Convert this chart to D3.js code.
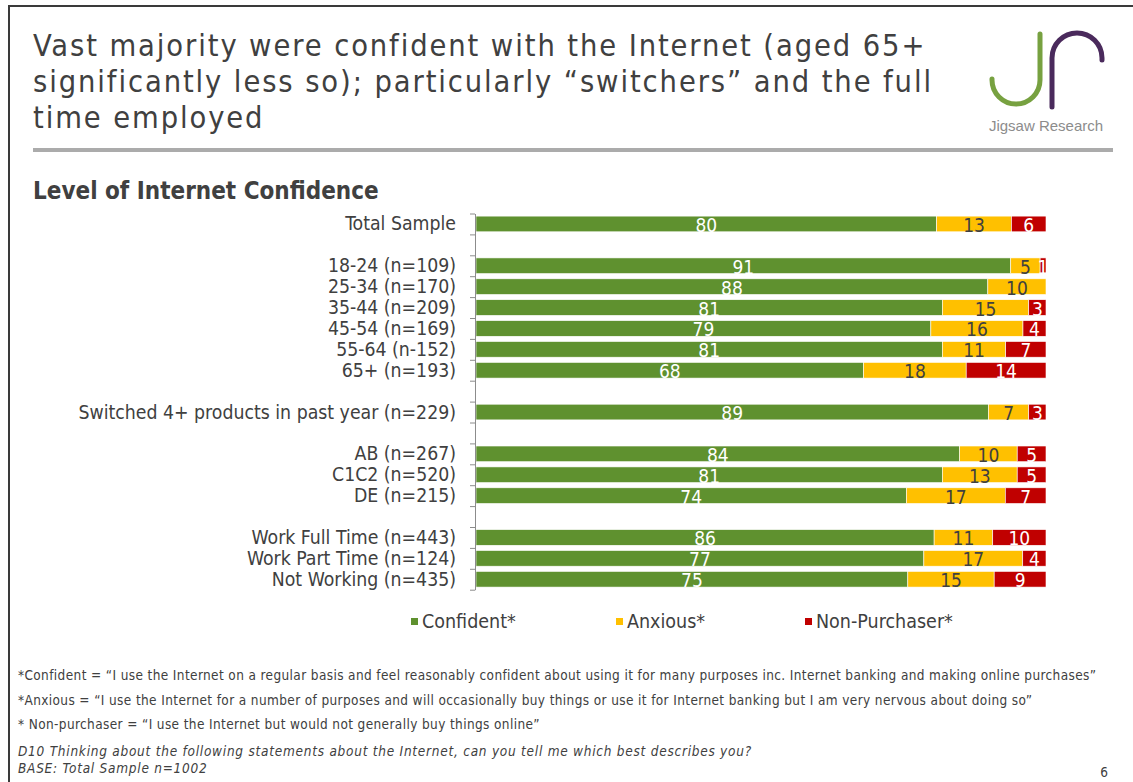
<!DOCTYPE html>
<html>
<head>
<meta charset="utf-8">
<script src="https://cdn.jsdelivr.net/npm/d3@7"></script>
<style>
  html, body { margin: 0; padding: 0; background: #fff; }
  svg { display: block; }
  text { font-family: "DejaVu Sans Condensed", "DejaVu Sans", sans-serif; font-stretch: condensed; }
</style>
</head>
<body>
<svg id="chart" width="1133" height="782"></svg>
<script>
// Categories in display order, with the size of each group (groups separated by a blank row)
const categories = [
  "Total Sample",
  "18-24 (n=109)", "25-34 (n=170)", "35-44 (n=209)", "45-54 (n=169)", "55-64 (n-152)", "65+ (n=193)",
  "Switched 4+ products in past year (n=229)",
  "AB (n=267)", "C1C2 (n=520)", "DE (n=215)",
  "Work Full Time (n=443)", "Work Part Time (n=124)", "Not Working (n=435)"
];
const groupSizes = [1, 6, 1, 3, 3];

// Percentages per category
const confident    = [80, 91, 88, 81, 79, 81, 68, 89, 84, 81, 74, 86, 77, 75];
const anxious      = [13,  5, 10, 15, 16, 11, 18,  7, 10, 13, 17, 11, 17, 15];
const nonPurchaser = [ 6,  1,  0,  3,  4,  7, 14,  3,  5,  5,  7, 10,  4,  9];

const seriesKeys   = ["confident", "anxious", "nonPurchaser"];
const seriesLabels = ["Confident*", "Anxious*", "Non-Purchaser*"];
const seriesColors = ["#5f912f", "#ffc000", "#c00000"];
const labelColors  = ["#ffffff", "#404040", "#ffffff"];

const titleLines = [
  "Vast majority were confident with the Internet (aged 65+",
  "significantly less so); particularly \u201cswitchers\u201d and the full",
  "time employed"
];
const subtitle = "Level of Internet Confidence";
const footnotes = [
  "*Confident = \u201cI use the Internet on a regular basis and feel reasonably confident about using it for many purposes inc. Internet banking and making online purchases\u201d",
  "*Anxious = \u201cI use the Internet for a number of purposes and will occasionally  buy things or use it for Internet banking but I am very nervous about doing so\u201d",
  "* Non-purchaser = \u201cI use the Internet but would not generally  buy things online\u201d"
];
const questionNotes = [
  "D10 Thinking about the following statements about the Internet, can you tell me which best describes you?",
  "BASE: Total Sample n=1002"
];

const svg = d3.select("#chart");
const ink = "#404040";

// Slide frame
svg.append("line").attr("x1", 9).attr("x2", 1133).attr("y1", 6).attr("y2", 6)
  .attr("stroke", "#3a3a3a").attr("stroke-width", 2);
svg.append("line").attr("x1", 9).attr("x2", 9).attr("y1", 5).attr("y2", 782)
  .attr("stroke", "#3a3a3a").attr("stroke-width", 2);

// Title
const title = svg.append("text").attr("fill", ink).attr("font-size", 30.5).attr("letter-spacing", 1.9);
titleLines.forEach((t, i) => {
  title.append("tspan").attr("x", 33).attr("y", 56 + i * 36).text(t);
});

// Logo
const logo = svg.append("g");
logo.append("path")
  .attr("d", "M1040,34 L1040,80 A24,24 0 0 1 992,80 L992,79")
  .attr("fill", "none").attr("stroke", "#77a140").attr("stroke-width", 5).attr("stroke-linecap", "round");
logo.append("path")
  .attr("d", "M1052,107 L1052,58 A25,25 0 0 1 1102,58 L1102,60")
  .attr("fill", "none").attr("stroke", "#4a2a5c").attr("stroke-width", 5).attr("stroke-linecap", "round");
logo.append("text").attr("x", 1046).attr("y", 131).attr("text-anchor", "middle")
  .attr("font-size", 15).attr("fill", "#8c8c8c")
  .style("font-family", "'Liberation Sans', Arial, sans-serif").style("font-stretch", "normal")
  .text("Jigsaw Research");

// Separator under the header
svg.append("rect").attr("x", 33).attr("y", 148).attr("width", 1080).attr("height", 4).attr("fill", "#ababab");

// Chart subtitle
svg.append("text").attr("x", 33).attr("y", 199).attr("fill", ink)
  .attr("font-size", 24).attr("font-weight", "bold").text(subtitle);

// Build the row domain: categories with a blank row between groups
const rowKeys = [];
let ci = 0;
groupSizes.forEach((n, g) => {
  if (g > 0) rowKeys.push("__gap" + g);
  for (let k = 0; k < n; k++) rowKeys.push(categories[ci++]);
});

const plotTop = 213.5, plotBottom = 589.7, plotLeft = 475, plotRight = 1046;
const y = d3.scaleBand().domain(rowKeys).range([plotTop, plotBottom]).paddingInner(0.25).paddingOuter(0.125);
const yEdges = d3.scaleLinear().domain([0, rowKeys.length]).range([plotTop, plotBottom]);
const x = d3.scaleLinear().domain([0, 1]).range([plotLeft + 1, plotRight]);

// Table of rows for the stack
const table = categories.map((c, i) => ({
  category: c, confident: confident[i], anxious: anxious[i], nonPurchaser: nonPurchaser[i]
}));
const stacked = d3.stack().keys(seriesKeys).offset(d3.stackOffsetExpand)(table);

// Bars
const layers = svg.append("g").selectAll("g").data(stacked).join("g")
  .attr("fill", (d, i) => seriesColors[i]);
layers.selectAll("rect").data(d => d).join("rect")
  .attr("x", d => x(d[0]))
  .attr("y", d => y(d.data.category))
  .attr("width", d => Math.max(0, x(d[1]) - x(d[0])))
  .attr("height", y.bandwidth())
  .attr("stroke", "#ffffff").attr("stroke-width", 0.6);

// Value labels
stacked.forEach((layer, si) => {
  svg.append("g").selectAll("text").data(layer.filter(d => d.data[layer.key] > 0)).join("text")
    .attr("x", d => (x(d[0]) + x(d[1])) / 2)
    .attr("y", d => y(d.data.category) + y.bandwidth() / 2 + 8)
    .attr("text-anchor", "middle")
    .attr("font-size", 19)
    .attr("fill", labelColors[si])
    .text(d => d.data[layer.key]);
});

// Category axis: line with ticks at the row boundaries
svg.append("g").attr("transform", `translate(${plotLeft},0)`)
  .call(d3.axisLeft(yEdges).tickValues(d3.range(rowKeys.length + 1)).tickFormat("").tickSize(5).tickSizeOuter(0))
  .call(g => g.selectAll("line, path").attr("stroke", "#8c8c8c"));

// Category labels
svg.append("g").selectAll("text").data(categories).join("text")
  .attr("x", 456)
  .attr("y", d => y(d) + y.bandwidth() / 2 + 6.5)
  .attr("text-anchor", "end")
  .attr("font-size", 19.3)
  .attr("fill", ink)
  .text(d => d);

// Legend
const legendX = [411, 616, 805];
const legend = svg.append("g").selectAll("g").data(seriesLabels).join("g")
  .attr("transform", (d, i) => `translate(${legendX[i]},621)`);
legend.append("rect").attr("x", 0).attr("y", -3).attr("width", 7).attr("height", 7)
  .attr("fill", (d, i) => seriesColors[i]);
legend.append("text").attr("x", 11).attr("y", 7).attr("font-size", 19.5).attr("fill", ink).text(d => d);

// Footnotes
svg.append("g").selectAll("text").data(footnotes).join("text")
  .attr("x", 18).attr("y", (d, i) => 680 + i * 24.5)
  .attr("font-size", 13.5).attr("letter-spacing", 0.38).attr("fill", ink).text(d => d);
svg.append("g").selectAll("text").data(questionNotes).join("text")
  .attr("x", 18).attr("y", (d, i) => 756 + i * 17)
  .attr("font-size", 13.5).attr("letter-spacing", 0.75).attr("font-style", "italic").attr("fill", ink).text(d => d);
svg.append("text").attr("x", 1108).attr("y", 777).attr("text-anchor", "end")
  .attr("font-size", 13.5).attr("fill", ink).text("6");
</script>
</body>
</html>
